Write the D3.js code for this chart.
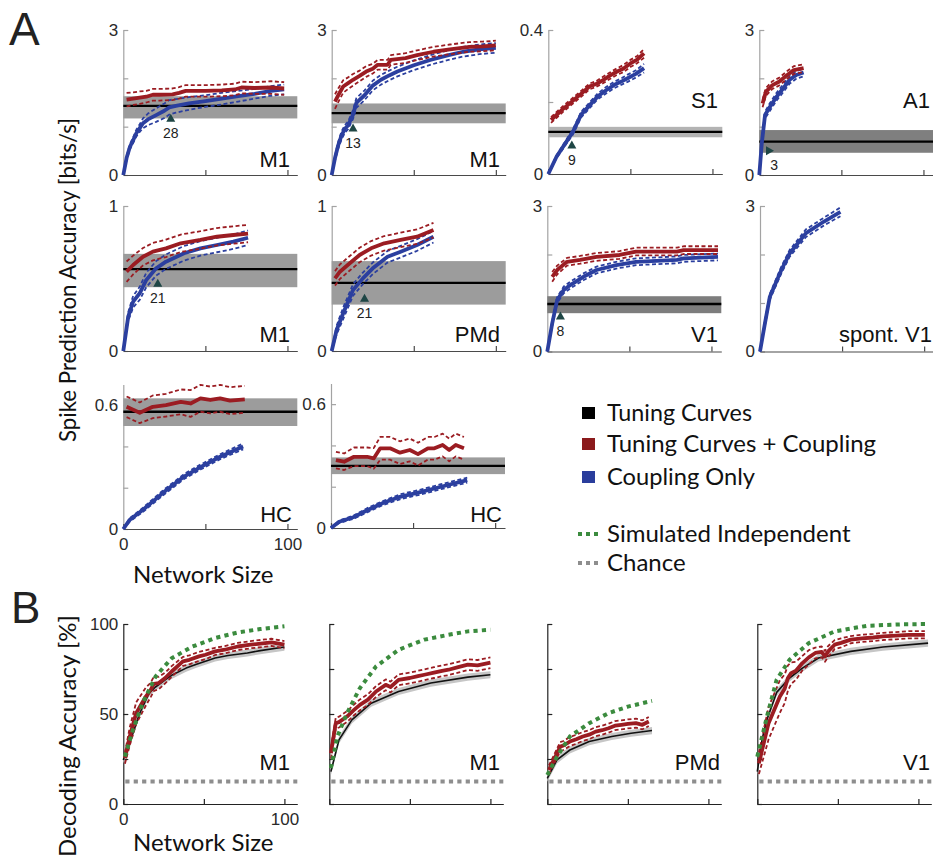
<!DOCTYPE html>
<html><head><meta charset="utf-8">
<script src="https://cdn.jsdelivr.net/npm/d3@7"></script>
<style>body{margin:0;background:#fff}svg{display:block}</style>
</head><body>
<svg id="c" width="933" height="858"></svg>
<script>
// ================= DATA =================
// Panel A: Spike prediction accuracy [bits/s] vs network size
// tcc = Tuning Curves + Coupling (red), cp = Coupling Only (blue), tc = Tuning Curves band [low, mean, high]
// a1: M1
const a1_tccN = [2,6,10,14,18,22,30,34,38,50,60,68,72,80,90,98];
const a1_tcc  = [1.56,1.58,1.6,1.62,1.66,1.66,1.67,1.7,1.74,1.74,1.75,1.77,1.81,1.8,1.81,1.79];
const a1_tccCI= [0.14,0.13,0.13,0.12,0.12,0.12,0.12,0.12,0.12,0.12,0.12,0.12,0.12,0.12,0.13,0.13];
const a1_cpN  = [0,2,4,6,8,10,12,15,20,25,28,32,40,50,60,70,80,90,98];
const a1_cp   = [0,0.35,0.58,0.72,0.87,0.97,1.07,1.15,1.24,1.33,1.40,1.43,1.48,1.53,1.58,1.63,1.68,1.74,1.77];
const a1_cpCI = [0,0.04,0.05,0.06,0.07,0.08,0.1,0.12,0.14,0.15,0.15,0.14,0.13,0.12,0.12,0.11,0.1,0.1,0.1];
const a1_tc   = [1.17,1.43,1.63];
const a1_mark = [28,28.9,1.10];
// a2: M1
const a2_tccN = [2,4,7,10,13,17,21,25,28,34,36,45,52,62,72,84,92,100];
const a2_tcc  = [1.52,1.65,1.83,1.9,1.97,2.05,2.14,2.2,2.28,2.28,2.38,2.42,2.48,2.55,2.6,2.65,2.66,2.68];
const a2_tccCI= [0.15,0.14,0.13,0.12,0.12,0.11,0.11,0.1,0.1,0.1,0.1,0.1,0.1,0.1,0.1,0.1,0.1,0.1];
const a2_cpN  = [0,2,4,6,8,10,13,15,20,25,30,35,40,50,60,70,80,90,100];
const a2_cp   = [0,0.35,0.62,0.82,0.95,1.03,1.25,1.49,1.65,1.85,1.97,2.06,2.14,2.27,2.38,2.47,2.55,2.6,2.63];
const a2_cpCI = [0,0.05,0.07,0.08,0.08,0.08,0.09,0.1,0.1,0.1,0.1,0.1,0.1,0.1,0.1,0.1,0.1,0.1,0.1];
const a2_tc   = [1.07,1.28,1.48];
const a2_mark = [13,13,0.90];
// a3: S1
const a3_tccN = [1,5,10,12.5,15,17.5,20,22.5,25,27.5,30,32.5,35];
const a3_tcc  = [0.15,0.178,0.21,0.226,0.243,0.25,0.261,0.273,0.284,0.293,0.307,0.318,0.335];
const a3_tccCI= [0.008,0.008,0.008,0.008,0.008,0.008,0.009,0.009,0.009,0.01,0.01,0.01,0.012];
const a3_cpN  = [0,3,7,9,12,15,18,21,24,27,29,32,35];
const a3_cp   = [0,0.048,0.094,0.117,0.165,0.19,0.215,0.232,0.247,0.258,0.266,0.278,0.294];
const a3_cpCI = [0,0.004,0.006,0.007,0.008,0.008,0.008,0.009,0.009,0.009,0.01,0.01,0.012];
const a3_tc   = [0.102,0.117,0.131];
const a3_mark = [9,8.6,0.071];
// a4: A1
const a4_tccN = [2,4,8,12,17,21,27];
const a4_tcc  = [1.48,1.72,1.86,1.93,2.07,2.17,2.21];
const a4_tccCI= [0.08,0.08,0.08,0.08,0.08,0.08,0.08];
const a4_cpN  = [0,1.5,3.5,6.5,10.5,14.5,18.5,22.5,27];
const a4_cp   = [0,0.65,1.24,1.41,1.62,1.79,1.97,2.07,2.12];
const a4_cpCI = [0,0.05,0.07,0.08,0.08,0.08,0.08,0.08,0.08];
const a4_tc   = [0.46,0.69,0.93];
const a4_mark = [3,4.1,0.50];
// a5: M1
const a5_tccN = [2,6,12,18,26,35,47,57,67,76];
const a5_tcc  = [0.547,0.593,0.65,0.685,0.708,0.743,0.766,0.788,0.80,0.81];
const a5_tccCI= [0.07,0.065,0.06,0.06,0.06,0.06,0.06,0.06,0.06,0.06];
const a5_cpN  = [0,3,6,10,14,20,26,37,47,57,67,76];
const a5_cp   = [0,0.237,0.34,0.398,0.49,0.57,0.616,0.674,0.708,0.731,0.754,0.781];
const a5_cpCI = [0,0.03,0.04,0.045,0.05,0.05,0.05,0.05,0.05,0.05,0.05,0.05];
const a5_tc   = [0.44,0.565,0.67];
const a5_mark = [21,21,0.443];
// a6: PMd
const a6_tccN = [2,5,11,17,24,32,42,52,62];
const a6_tcc  = [0.501,0.547,0.605,0.662,0.708,0.743,0.766,0.788,0.834];
const a6_tccCI= [0.05,0.05,0.05,0.05,0.05,0.05,0.05,0.05,0.05];
const a6_cpN  = [0,3,7,13,19,25,34,42,52,62];
const a6_cp   = [0,0.145,0.26,0.421,0.501,0.57,0.65,0.685,0.731,0.788];
const a6_cpCI = [0,0.03,0.04,0.04,0.04,0.04,0.04,0.04,0.04,0.04];
const a6_tc   = [0.32,0.47,0.62];
const a6_mark = [21,20,0.34];
// a7: V1
const a7_tccN = [3,6,12,20,30,44,54,79,83,104];
const a7_tcc  = [1.54,1.68,1.85,1.89,1.95,1.99,2.06,2.06,2.09,2.09];
const a7_tccCI= [0.1,0.09,0.08,0.08,0.08,0.08,0.08,0.08,0.08,0.08];
const a7_cpN  = [0,3,6,10,14,22,30,42,54,79,83,104];
const a7_cp   = [0,0.58,1.06,1.27,1.37,1.54,1.68,1.78,1.85,1.89,1.92,1.95];
const a7_cpCI = [0,0.05,0.06,0.07,0.07,0.07,0.07,0.07,0.07,0.07,0.07,0.07];
const a7_tc   = [0.79,0.98,1.14];
const a7_mark = [8,8,0.66];
// a8: spont. V1 (coupling only)
const a8_cpN  = [0,3,6,13,18,28,39,49];
const a8_cp   = [0,0.58,1.13,1.68,2.02,2.44,2.68,2.88];
const a8_cpCI = [0,0.05,0.06,0.07,0.07,0.08,0.08,0.09];
// a9: HC
const a9_tccN = [2,10,18,26,35,41,47,53,59,65,74];
const a9_tcc  = [0.592,0.563,0.592,0.6,0.616,0.608,0.633,0.625,0.633,0.622,0.628];
const a9_tccCI= [0.05,0.05,0.055,0.055,0.06,0.065,0.065,0.065,0.065,0.065,0.065];
const a9_cpN  = [0,4,12,24,37,47,59,73];
const a9_cp   = [0,0.045,0.093,0.174,0.254,0.30,0.35,0.40];
const a9_cpCI = [0,0.008,0.01,0.012,0.012,0.012,0.012,0.014];
const a9_tc   = [0.499,0.568,0.633];
// a10: HC
const a10_tccN = [3,8,14,22,26,30,36,42,48,53,59,63,68,72,76,81];
const a10_tcc  = [0.329,0.321,0.345,0.345,0.337,0.386,0.386,0.365,0.378,0.358,0.386,0.386,0.402,0.378,0.402,0.386];
const a10_tccCI= [0.04,0.04,0.045,0.045,0.05,0.055,0.055,0.055,0.055,0.055,0.055,0.055,0.055,0.055,0.055,0.055];
const a10_cpN  = [0,5,14,22,32,42,55,67,83];
const a10_cp   = [0,0.03,0.053,0.086,0.122,0.151,0.175,0.2,0.232];
const a10_cpCI = [0,0.006,0.008,0.01,0.01,0.012,0.012,0.012,0.012];
const a10_tc   = [0.261,0.301,0.342];

// Panel B: Decoding accuracy [%]; sim = simulated independent, tc = tuning curves, tcc = tuning curves + coupling
const chanceLevel = 12.5;
const b1_simN = [1,6,12,20,30,43,57,71,85,100];
const b1_sim  = [26.3,41.2,56,70.8,81,87.5,92.2,95.3,97.2,98.7];
const b1_tcN  = [0,2,4,6,10,16,20,26,30,39,45,57,65,77,85,100];
const b1_tc   = [24.5,30,35,39.3,50,61.6,65,69,71.5,75.5,77.5,81.1,82.5,83.9,85.2,87.2];
const b1_tccN = [1,4,8,14,17,19,22,26,30,37,41,47,51,57,63,71,79,88,92,100];
const b1_tcc  = [25.4,37.5,50.5,59.7,63.4,66.8,67.2,70,73.6,79.2,80.1,82,82.9,84.8,85.7,87.5,88.5,89.4,89.8,88.5];
const b1_tccCI= [3,5,6,5,4,4,3.5,3,3,2.5,2.5,2.5,2.5,2,2,2,2,2,2,2];

const b2_simN = [1,5,11,19,29,43,59,74,86,100];
const b2_sim  = [19.9,37.5,50.5,64.4,76.4,85.7,91.3,94,95.9,96.8];
const b2_tcN  = [1,6,14,26,43,63,86,100];
const b2_tc   = [18,35.6,46.7,56,62.5,67.2,70.5,71.8];
const b2_tccN = [1,4,6,11,15,19,24,29,35,38,43,50,55,59,65,70,74,80,86,92,100];
const b2_tcc  = [28.2,44.9,45.5,48.6,52,55.1,58,62.5,66.2,65,69,70,71,71.8,73,74,74.6,76,77.4,77,78.5];
const b2_tccCI= [3,3,3,3,3,3,3,3,3,3,3,3,3,3,3,3,3,3,3,3,3];

const b3_simN = [0,6,14,26,38,50,65];
const b3_sim  = [16.1,26.3,37.5,44.9,50.5,54.1,57.3];
const b3_tcN  = [0,6,14,26,40,52,65];
const b3_tc   = [14.3,24.5,30,34.7,37.5,39.3,40.8];
const b3_tccN = [1,8,10,14,18,22,26,30,34,38,42,46,50,55,59,63];
const b3_tcc  = [18.9,31.9,32.5,34.7,36,37.5,38.5,40.2,41,42.1,43.5,44,44.5,44.9,44,45.8];
const b3_tccCI= [2.5,2.5,2.5,2.5,2.5,2.5,2.5,2.5,2.5,2.5,2.5,2.5,2.5,2.5,2.5,2.5];

const b4_simN = [0,6,12,20,32,48,68,89,106];
const b4_sim  = [26.3,48.6,69,80.1,89.4,95.9,99,99.8,100];
const b4_tcN  = [0,3,6,12,20,28,38,58,78,106];
const b4_tc   = [18,36,47,62,70,75.5,81.1,84.8,87.2,89.4];
const b4_tccN = [1,7,14,17,19,21,24,28,32,36,40,42,44,48,52,58,65,72,78,86,94,104];
const b4_tcc  = [22.6,44.9,59.7,64,70,72.7,74,78.3,81.5,83.9,84.5,82,84.8,88.5,89.5,91.3,92,92.5,93.1,93.5,94,94];
const b4_tccCI= [6,9,9,8,7,6,5,4,4,3,3,3,3,2.5,2.5,2,2,2,2,2,2,2];

const namesA = ["M1","M1","S1","A1","M1","PMd","V1","spont. V1","HC","HC"];
const namesB = ["M1","M1","PMd","V1"];
const legendItems = ["Tuning Curves","Tuning Curves + Coupling","Coupling Only"];
const legendLines = ["Simulated Independent","Chance"];

// ================= DRAWING =================
const svg = d3.select('#c');
const RED='#9b1c22', BLUE='#2b3f9f', GREEN='#3b8b3e', CHANCE='#8e8e8e', TRI='#1e4645';
const FT='"Liberation Sans", Arial, sans-serif';
const FM='Lato, "Open Sans", sans-serif';

function textW(text, size){
  const t=svg.append('text').attr('font-family',FM).attr('font-size',size).text(text);
  const w=t.node().getComputedTextLength(); t.remove(); return w;
}
// text with Myriad-like proportions: given size, squeezed to the reference length when wider
function mtext(sel, text, size, len){
  const e=sel.append('text').attr('font-family',FM).attr('font-size',size).attr('fill','#111').text(text);
  if(textW(text,size)>len) e.attr('textLength',len).attr('lengthAdjust','spacingAndGlyphs');
  return e;
}

function panel(o){
  const g=svg.append('g');
  const x=d3.scaleLinear().domain([0,o.xmax]).range([o.left,o.left+174]);
  const y=d3.scaleLinear().domain([0,o.ymax]).range([o.bottom,o.top]);
  const yA=g.append('g').attr('transform',`translate(${x(0)},0)`)
    .call(d3.axisLeft(y).tickValues(o.yTicks).tickSizeInner(-5).tickSizeOuter(0).tickPadding(5)
      .tickFormat(d=>o.yLab.includes(d)?String(d):''));
  yA.select('.domain').attr('stroke',o.yCol).attr('stroke-width',1.2);
  yA.selectAll('.tick line').attr('stroke',o.yCol).attr('stroke-width',1.2);
  const xA=g.append('g').attr('transform',`translate(0,${y(0)})`)
    .call(d3.axisBottom(x).tickValues(o.xTicks).tickSizeInner(-5).tickSizeOuter(0).tickPadding(9)
      .tickFormat(d=>(o.xLab && (d===0||d===100))?String(d):''));
  xA.select('.domain').attr('stroke',o.xCol).attr('stroke-width',1.2);
  xA.selectAll('.tick line').attr('stroke',o.xCol).attr('stroke-width',1.2);
  g.selectAll('.tick text').attr('font-family',FT).attr('font-size',17).attr('fill','#2a2a2a');
  return {g,x,y,o};
}
function path(p,N,V,col,w,dash){
  const ln=d3.line().x((d,i)=>p.x(N[i])).y(d=>p.y(d));
  const e=p.g.append('path').attr('d',ln(V)).attr('fill','none').attr('stroke',col)
    .attr('stroke-width',w).attr('stroke-linejoin','round');
  if(dash) e.attr('stroke-dasharray',dash);
  return e;
}
function withCI(p,N,V,CI,col){
  path(p,N,V.map((v,i)=>v+CI[i]),col,1.8,'4 2.5');
  path(p,N,V.map((v,i)=>Math.max(0,v-CI[i])),col,1.8,'4 2.5');
  path(p,N,V,col,3.8);
}
function band(p,b,col){
  const xm=p.o.xmax;
  p.g.append('rect').attr('x',p.x(0)).attr('width',p.x(xm)-p.x(0))
    .attr('y',p.y(b[2])).attr('height',p.y(b[0])-p.y(b[2])).attr('fill',col);
  p.g.append('line').attr('x1',p.x(0)).attr('x2',p.x(xm)).attr('y1',p.y(b[1])).attr('y2',p.y(b[1]))
    .attr('stroke','#000').attr('stroke-width',2.4);
}
function marker(p,m,right){
  const cx=p.x(m[1]), cy=p.y(m[2]);
  if(right){
    p.g.append('path').attr('d',`M${cx},${cy-4.5}L${cx},${cy+4.5}L${cx+8},${cy}Z`).attr('fill',TRI);
    p.g.append('text').attr('x',cx+8).attr('y',cy+19).attr('text-anchor','middle')
      .attr('font-family',FT).attr('font-size',14).attr('fill','#222').text(m[0]);
  } else {
    p.g.append('path').attr('d',`M${cx-4.5},${cy}L${cx+4.5},${cy}L${cx},${cy-8}Z`).attr('fill',TRI);
    p.g.append('text').attr('x',cx).attr('y',cy+16.5).attr('text-anchor','middle')
      .attr('font-family',FT).attr('font-size',14).attr('fill','#222').text(m[0]);
  }
}
function name(p,t,xr,yb){
  p.g.append('text').attr('x',xr).attr('y',yb).attr('text-anchor','end')
    .attr('font-family',FT).attr('font-size',22).attr('fill','#111').text(t);
}

const YA='#a3a3a3', XA='#4a4a4a';
const base3={xmax:106,ymax:3,yTicks:[0,1,2,3],yLab:[0,3],xTicks:[0,50,100],xLab:false,yCol:YA,xCol:XA};
// Row 1
let p;
p=panel({...base3,left:123.3,top:30,bottom:175});
band(p,a1_tc,'#9c9c9c'); withCI(p,a1_cpN,a1_cp,a1_cpCI,BLUE); withCI(p,a1_tccN,a1_tcc,a1_tccCI,RED);
marker(p,a1_mark); name(p,namesA[0],290,167);

p=panel({...base3,left:331.7,top:30,bottom:175});
band(p,a2_tc,'#9c9c9c'); withCI(p,a2_cpN,a2_cp,a2_cpCI,BLUE); withCI(p,a2_tccN,a2_tcc,a2_tccCI,RED);
marker(p,a2_mark); name(p,namesA[1],500,167);

p=panel({...base3,xmax:63.6,ymax:0.4,yTicks:[0,0.2,0.4],yLab:[0,0.4],xTicks:[0,30,60],left:548.3,top:30,bottom:174});
band(p,a3_tc,'#b3b3b3'); withCI(p,a3_cpN,a3_cp,a3_cpCI,BLUE); withCI(p,a3_tccN,a3_tcc,a3_tccCI,RED);
marker(p,a3_mark); name(p,namesA[2],718,108);

p=panel({...base3,left:759.3,top:30,bottom:175});
band(p,a4_tc,'#7f7f7f'); withCI(p,a4_cpN,a4_cp,a4_cpCI,BLUE); withCI(p,a4_tccN,a4_tcc,a4_tccCI,RED);
marker(p,a4_mark,true); name(p,namesA[3],930,108);

// Row 2
const base1={...base3,ymax:1,yTicks:[0,0.5,1],yLab:[0,1]};
p=panel({...base1,left:123.3,top:206,bottom:351});
band(p,a5_tc,'#9c9c9c'); withCI(p,a5_cpN,a5_cp,a5_cpCI,BLUE); withCI(p,a5_tccN,a5_tcc,a5_tccCI,RED);
marker(p,a5_mark); name(p,namesA[4],290,342);

p=panel({...base1,left:331.7,top:206,bottom:351});
band(p,a6_tc,'#9c9c9c'); withCI(p,a6_cpN,a6_cp,a6_cpCI,BLUE); withCI(p,a6_tccN,a6_tcc,a6_tccCI,RED);
marker(p,a6_mark); name(p,namesA[5],500,342);

p=panel({...base3,left:547.3,top:206,bottom:351.5});
band(p,a7_tc,'#7d7d7d'); withCI(p,a7_cpN,a7_cp,a7_cpCI,BLUE); withCI(p,a7_tccN,a7_tcc,a7_tccCI,RED);
marker(p,a7_mark); name(p,namesA[6],718,342);

p=panel({...base3,left:760,top:206,bottom:351.5});
withCI(p,a8_cpN,a8_cp,a8_cpCI,BLUE); name(p,namesA[7],932,342);

// Row 3
const baseHC={...base3,ymax:0.7,yTicks:[0,0.2,0.4,0.6],yLab:[0,0.6]};
p=panel({...baseHC,xLab:true,left:123.3,top:384.5,bottom:529});
band(p,a9_tc,'#9c9c9c'); withCI(p,a9_cpN,a9_cp,a9_cpCI,BLUE); withCI(p,a9_tccN,a9_tcc,a9_tccCI,RED);
name(p,namesA[8],292,522);

p=panel({...baseHC,left:331,top:383.5,bottom:528});
band(p,a10_tc,'#9c9c9c'); withCI(p,a10_cpN,a10_cp,a10_cpCI,BLUE); withCI(p,a10_tccN,a10_tcc,a10_tccCI,RED);
name(p,namesA[9],502,522);

// Panel B
const baseB={xmax:108,ymax:100,yTicks:[0,25,50,75,100],yLab:[],xTicks:[0,50,100],xLab:false,yCol:'#222',xCol:'#222',top:624,bottom:804};
const bData=[
  [b1_simN,b1_sim,b1_tcN,b1_tc,b1_tccN,b1_tcc,b1_tccCI],
  [b2_simN,b2_sim,b2_tcN,b2_tc,b2_tccN,b2_tcc,b2_tccCI],
  [b3_simN,b3_sim,b3_tcN,b3_tc,b3_tccN,b3_tcc,b3_tccCI],
  [b4_simN,b4_sim,b4_tcN,b4_tc,b4_tccN,b4_tcc,b4_tccCI]];
const bLeft=[123.3,329.3,547.3,757.3], bNameX=[290,500,720,930];
bData.forEach((d,k)=>{
  const q=panel({...baseB,left:bLeft[k],yLab:k===0?[0,50,100]:[],xLab:k===0});
  q.g.append('line').attr('x1',q.x(0)+2).attr('x2',q.x(108)).attr('y1',q.y(chanceLevel)).attr('y2',q.y(chanceLevel))
    .attr('stroke',CHANCE).attr('stroke-width',4).attr('stroke-dasharray','4.2 4.2');
  const ar=d3.area().x((v,i)=>q.x(d[2][i])).y0(v=>q.y(v-2)).y1(v=>q.y(v+2));
  q.g.append('path').attr('d',ar(d[3])).attr('fill','#c6c6c6');
  path(q,d[2],d[3],'#111',1.6);
  withCI(q,d[4],d[5],d[6],RED);
  path(q,d[0],d[1],GREEN,4,'4.2 4.2');
  name(q,namesB[k],bNameX[k],770);
});

// Big letters
svg.append('text').attr('x',9).attr('y',45).attr('font-family',FT).attr('font-size',46).attr('fill','#222').text('A');
svg.append('text').attr('x',11).attr('y',623).attr('font-family',FT).attr('font-size',44).attr('fill','#222').text('B');

// Axis titles
const ylab1='Spike Prediction Accuracy [bits/s]', ylab2='Decoding Accuracy [%]';
mtext(svg.append('g').attr('transform','translate(76,442) rotate(-90)'), ylab1, 24, 324);
mtext(svg.append('g').attr('transform','translate(76,857) rotate(-90)'), ylab2, 24, 260);
mtext(svg.append('g').attr('transform','translate(133,583)'), 'Network Size', 24, 147);
mtext(svg.append('g').attr('transform','translate(133,851)'), 'Network Size', 24, 147);

// Legend
const legCol=['#000','#8b1a1c','#2a3d9c'], legY=[421,452,485], legLen=[145,296,148];
legendItems.forEach((t,i)=>{
  svg.append('rect').attr('x',582).attr('y',legY[i]-14).attr('width',13).attr('height',12).attr('fill',legCol[i]);
  mtext(svg.append('g').attr('transform',`translate(607,${legY[i]})`), t, 24, legLen[i]);
});
const lineCol=[GREEN,CHANCE], lineY=[542,571], lineLen=[270,83];
legendLines.forEach((t,i)=>{
  svg.append('line').attr('x1',578).attr('x2',598).attr('y1',lineY[i]-8).attr('y2',lineY[i]-8)
    .attr('stroke',lineCol[i]).attr('stroke-width',4).attr('stroke-dasharray','4 4');
  mtext(svg.append('g').attr('transform',`translate(607,${lineY[i]})`), t, 24, lineLen[i]);
});
</script>
</body></html>
